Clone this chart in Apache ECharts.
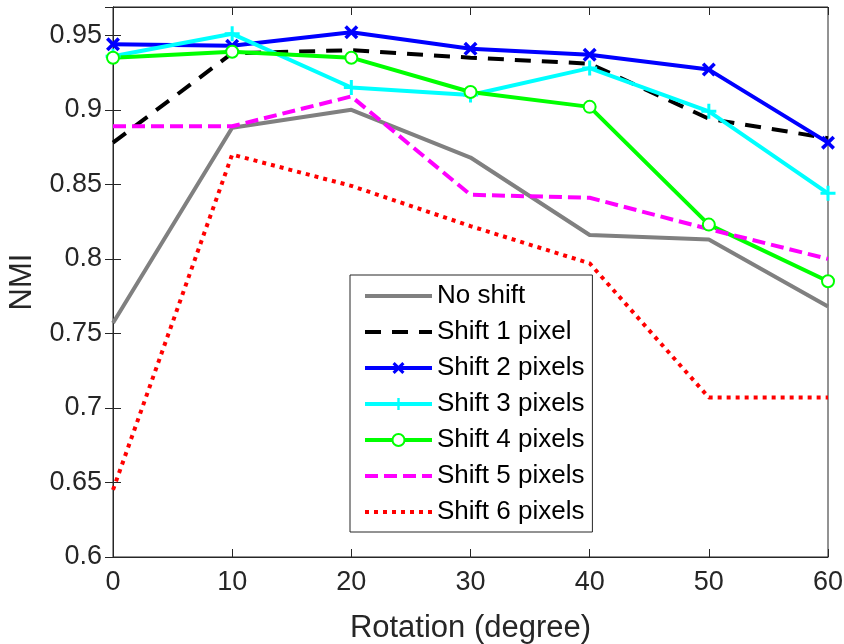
<!DOCTYPE html>
<html>
<head>
<meta charset="utf-8">
<script src="https://cdn.jsdelivr.net/npm/echarts@6/dist/echarts.min.js"></script>
<style>
  html, body { margin: 0; padding: 0; background: #fff; }
  #main { width: 844px; height: 644px; }
</style>
</head>
<body>
<div id="main"></div>
<script>
const rotation = [0, 10, 20, 30, 40, 50, 60]
const noShift = [0.757, 0.888, 0.900, 0.868, 0.816, 0.813, 0.768]
const shift1 = [0.878, 0.938, 0.940, 0.935, 0.931, 0.894, 0.881]
const shift2 = [0.944, 0.943, 0.952, 0.941, 0.937, 0.927, 0.878]
const shift3 = [0.936, 0.951, 0.915, 0.910, 0.928, 0.899, 0.844]
const shift4 = [0.935, 0.939, 0.935, 0.912, 0.902, 0.823, 0.785]
const shift5 = [0.889, 0.889, 0.909, 0.843, 0.841, 0.820, 0.800]
const shift6 = [0.645, 0.870, 0.849, 0.822, 0.797, 0.707, 0.707]

const font = 'Liberation Sans, Arial, Helvetica, sans-serif'
const axisColor = '#262626'
// marker shapes
const crossPath = 'path://M0,1.8 L1.8,0 L5,3.2 L8.2,0 L10,1.8 L6.8,5 L10,8.2 L8.2,10 L5,6.8 L1.8,10 L0,8.2 L3.2,5 Z'
const plusPath = 'path://M4,0 L6,0 L6,4 L10,4 L10,6 L6,6 L6,10 L4,10 L4,6 L0,6 L0,4 L4,4 Z'

function pairs (ys) {
  return rotation.map((x, i) => [x, ys[i]])
}

function line (name, ys, color, type, symbol, symbolSize) {
  return {
    name: name,
    type: 'line',
    data: pairs(ys),
    symbol: symbol || 'none',
    symbolSize: symbolSize || 0,
    showSymbol: !!symbol,
    lineStyle: { color: color, width: 4, type: type, cap: 'butt' },
    itemStyle: { color: color, borderColor: color, borderWidth: symbol === 'emptyCircle' ? 3 : 0 },
    emphasis: { disabled: true },
    animation: false,
    z: 3
  }
}

// legend entries, symbols hidden for plain lines
const legendNames = ['No shift', 'Shift 1 pixel', 'Shift 2 pixels', 'Shift 3 pixels', 'Shift 4 pixels', 'Shift 5 pixels', 'Shift 6 pixels']
const legendMarked = [false, false, true, true, true, false, false]

const chart = echarts.init(document.getElementById('main'))
const option = {
  animation: false,
  textStyle: { fontFamily: font },
  grid: {
    left: 113, right: 16, top: 7, bottom: 87,
    outerBoundsMode: 'none',
    containLabel: false,
    show: true, borderColor: axisColor, borderWidth: 1
  },
  legend: {
    orient: 'vertical',
    left: 350,
    top: 275,
    padding: [8, 8, 7, 13],
    itemWidth: 67,
    itemHeight: 15,
    itemGap: 10,
    backgroundColor: '#fff',
    borderColor: axisColor,
    borderWidth: 1,
    lineStyle: { width: 4 },
    textStyle: { fontSize: 26, color: '#000', fontFamily: font, lineHeight: 26 },
    data: legendNames.map((n, i) => legendMarked[i] ? { name: n } : { name: n, itemStyle: { opacity: 0 } })
  },
  xAxis: [{
    type: 'value',
    min: 0, max: 60, interval: 10,
    name: 'Rotation (degree)',
    nameLocation: 'middle',
    nameGap: 56,
    nameTextStyle: { fontSize: 31, color: axisColor, fontFamily: font },
    axisLine: { show: true, lineStyle: { color: axisColor } },
    axisTick: { show: true, inside: true, length: 8, lineStyle: { color: axisColor } },
    axisLabel: { fontSize: 27, color: axisColor, margin: 12, fontFamily: font },
    splitLine: { show: false }
  }, {
    type: 'value', position: 'top',
    min: 0, max: 60, interval: 10,
    axisLine: { show: true, lineStyle: { color: axisColor } },
    axisTick: { show: true, inside: true, length: 8, lineStyle: { color: axisColor } },
    axisLabel: { show: false },
    splitLine: { show: false }
  }],
  yAxis: [{
    type: 'value',
    min: 0.6, max: 0.969, interval: 0.05,
    name: 'NMI',
    nameLocation: 'middle',
    nameGap: 75,
    nameTextStyle: { fontSize: 31, color: axisColor, fontFamily: font },
    axisLine: { show: true, lineStyle: { color: axisColor } },
    axisTick: { show: true, inside: true, length: 8, lineStyle: { color: axisColor } },
    axisLabel: {
      fontSize: 27, color: axisColor, margin: 11, fontFamily: font, showMaxLabel: false,
      formatter: (v) => String(+v.toFixed(2))
    },
    splitLine: { show: false }
  }, {
    type: 'value', position: 'right',
    min: 0.6, max: 0.969, interval: 0.05,
    axisLine: { show: true, lineStyle: { color: axisColor } },
    axisTick: { show: true, inside: true, length: 8, lineStyle: { color: axisColor } },
    axisLabel: { show: false },
    splitLine: { show: false }
  }],
  series: [
    line('No shift', noShift, '#808080', 'solid'),
    line('Shift 1 pixel', shift1, '#000000', [16, 11]),
    line('Shift 2 pixels', shift2, '#0000ff', 'solid', crossPath, 14),
    line('Shift 3 pixels', shift3, '#00ffff', 'solid', plusPath, 15),
    line('Shift 4 pixels', shift4, '#00ff00', 'solid', 'emptyCircle', 12),
    line('Shift 5 pixels', shift5, '#ff00ff', [13, 6]),
    line('Shift 6 pixels', shift6, '#ff0000', [4, 5])
  ]
}
chart.setOption(option)
</script>
</body>
</html>
